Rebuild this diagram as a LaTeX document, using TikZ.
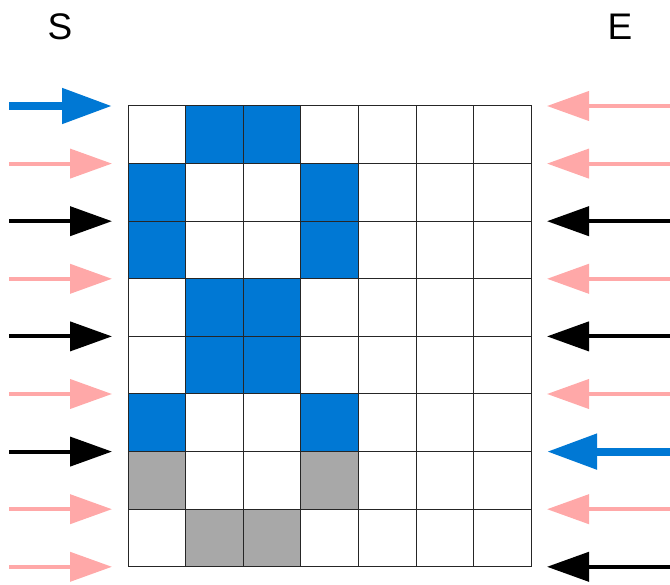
\documentclass[tikz,border=0pt]{standalone}
\usepackage{fontspec}
\setmainfont{Liberation Sans}
\usepackage{tikz}
\usetikzlibrary{arrows.meta}
\definecolor{cellblue}{RGB}{0,120,212}
\definecolor{cellgray}{RGB}{168,168,168}
\definecolor{flowpink}{RGB}{255,168,168}
\tikzset{
  cell/.style={draw=black!85, line width=1pt, minimum size=57.6pt, inner sep=0pt},
  thinarr/.style={line width=4pt, -{Triangle[length=42pt, width=29pt]}},
  thickarr/.style={line width=8pt, -{Triangle[length=50pt, width=34pt]}},
  pinkarr/.style={thinarr, flowpink},
  blackarr/.style={thinarr, black},
  bluearr/.style={thickarr, cellblue},
  side/.style={font=\fontsize{37}{40}\selectfont}
}

\begin{document}
\begin{tikzpicture}[x=1pt, y=-1pt]
    \useasboundingbox (0,0) rectangle (670,585);
    \node[side] (S) at (60, 27) {S};
    \node[side] (E) at (620, 27) {E};
    % grid of cells
    \foreach \r in {0,...,7}
      \foreach \c in {0,...,6}
        \node[cell] (c\r\c) at (156.8+57.6*\c, 134.8+57.6*\r) {};
    \foreach \r/\c in {0/1,0/2,1/0,1/3,2/0,2/3,3/1,3/2,4/1,4/2,5/0,5/3}
      \node[cell, fill=cellblue] at (c\r\c) {};
    \foreach \r/\c in {6/0,6/3,7/1,7/2}
      \node[cell, fill=cellgray] at (c\r\c) {};
    % arrow ends
    \foreach \i in {0,...,8} {
      \coordinate (ls\i) at (9, 106+57.6*\i);
      \coordinate (lt\i) at (112, 106+57.6*\i);
      \coordinate (rs\i) at (670, 106+57.6*\i);
      \coordinate (rt\i) at (547, 106+57.6*\i);
    }
    % S side
    \draw[bluearr] (ls0) -- (lt0);
    \foreach \i in {1,3,5,7,8}
      \draw[pinkarr] (ls\i) -- (lt\i);
    \foreach \i in {2,4,6}
      \draw[blackarr] (ls\i) -- (lt\i);
    % E side
    \foreach \i in {0,1,3,5,7}
      \draw[pinkarr] (rs\i) -- (rt\i);
    \foreach \i in {2,4,8}
      \draw[blackarr] (rs\i) -- (rt\i);
    \draw[bluearr] (rs6) -- (rt6);
\end{tikzpicture}
\end{document}
